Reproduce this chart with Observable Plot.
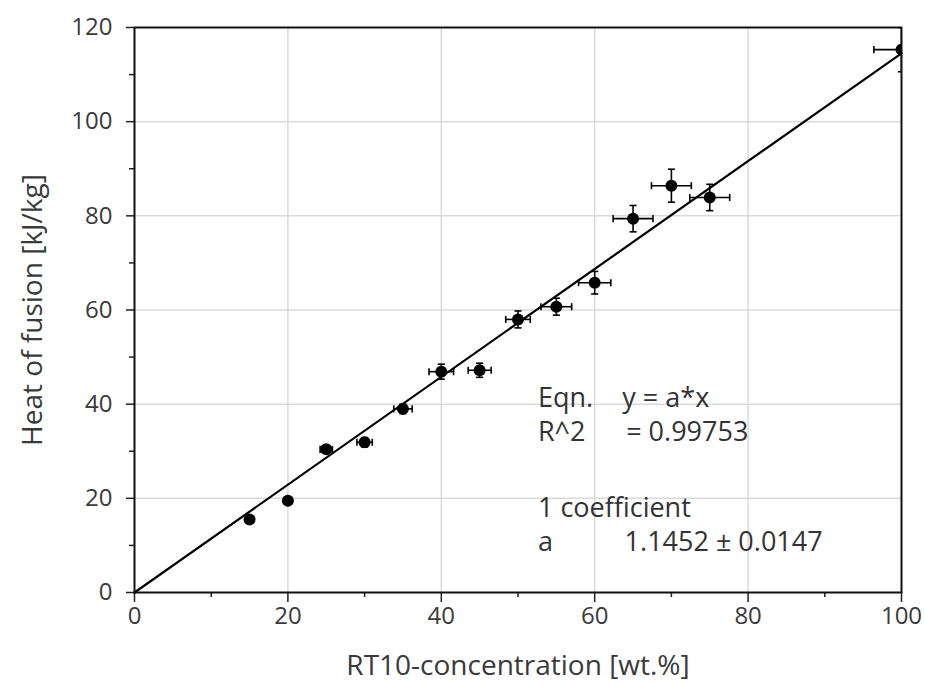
<!DOCTYPE html>
<html>
<head>
<meta charset="utf-8">
<script src="https://cdn.jsdelivr.net/npm/d3@7"></script>
<script src="https://cdn.jsdelivr.net/npm/@observablehq/plot@0.6"></script>
<style>
  html, body { margin: 0; padding: 0; background: #fff; }
  #chart svg { display: block; }
  #chart svg [aria-label="x-axis label"] text,
  #chart svg [aria-label="y-axis label"] text { font-size: 28px; fill: #3a3a3a; }
</style>
</head>
<body>
<div id="chart"></div>
<script>
// Data
const concentration = [15, 20, 25, 30, 35, 40, 45, 50, 55, 60, 65, 70, 75, 100];
const heatOfFusion  = [15.5, 19.5, 30.4, 31.9, 39.0, 46.9, 47.2, 58.0, 60.7, 65.8, 79.4, 86.4, 83.9, 115.3];
const xError        = [0.5, 0.5, 0.8, 1.0, 1.2, 1.6, 1.5, 1.6, 2.0, 2.1, 2.6, 2.6, 2.6, 3.6];
const yError        = [0.4, 0.4, 0.8, 1.0, 1.0, 1.6, 1.5, 1.8, 1.8, 2.4, 2.8, 3.5, 2.8, 4.7];
const slopeA = 1.1452;
const fitRange = [0, 100];
const majorTicks = [0, 20, 40, 60, 80, 100, 120];
const minorTicks = [10, 30, 50, 70, 90, 110];
const annotations = [
  {x: 52.6, y: 41.2, text: "Eqn."},
  {x: 63.6, y: 41.2, text: "y = a*x"},
  {x: 52.6, y: 34.0, text: "R^2"},
  {x: 64.1, y: 34.0, text: "= 0.99753"},
  {x: 52.6, y: 17.8, text: "1 coefficient"},
  {x: 52.6, y: 10.6, text: "a"},
  {x: 63.9, y: 10.6, text: "1.1452 ± 0.0147"}
];

const points = concentration.map((c, i) => ({
  x: c, y: heatOfFusion[i], dx: xError[i], dy: yError[i]
}));
const fit = fitRange.map(x => ({x, y: slopeA * x}));

const vbar = {draw(ctx, size) { const r = Math.sqrt(size) / 2; ctx.moveTo(0, -r); ctx.lineTo(0, r); }};
const hbar = {draw(ctx, size) { const r = Math.sqrt(size) / 2; ctx.moveTo(-r, 0); ctx.lineTo(r, 0); }};

const font = "'Open Sans', 'Noto Sans', sans-serif";

const chart = Plot.plot({
  width: 925,
  height: 686,
  marginLeft: 134,
  marginRight: 24,
  marginTop: 27,
  marginBottom: 94,
  style: {fontFamily: font, fontSize: "24px", color: "#3a3a3a", background: "#fff"},
  x: {domain: [0, 100]},
  y: {domain: [0, 120]},
  marks: [
    Plot.gridX([20, 40, 60, 80], {stroke: "#dadada", strokeOpacity: 1, strokeWidth: 1.5}),
    Plot.gridY([20, 40, 60, 80, 100], {stroke: "#dadada", strokeOpacity: 1, strokeWidth: 1.5}),
    Plot.axisX(majorTicks.filter(d => d <= 100), {tickSize: 10, tickPadding: 4, stroke: "#222", strokeWidth: 1.5, fill: "#3a3a3a", fontSize: 24,
      label: "RT10-concentration [wt.%]", labelAnchor: "center", labelArrow: "none", labelOffset: 82}),
    Plot.axisX(minorTicks.filter(d => d <= 100), {tickSize: 5, text: null, stroke: "#222", strokeWidth: 1.5, label: null}),
    Plot.axisY(majorTicks, {tickSize: 8, tickPadding: 14, stroke: "#222", strokeWidth: 1.5, fill: "#3a3a3a", fontSize: 24,
      label: "Heat of fusion [kJ/kg]", labelAnchor: "center", labelArrow: "none", labelOffset: 112}),
    Plot.axisY(minorTicks, {tickSize: 5, text: null, stroke: "#222", strokeWidth: 1.5, label: null}),
    Plot.frame({stroke: "#111", strokeWidth: 2}),
    Plot.line(fit, {x: "x", y: "y", stroke: "#000", strokeWidth: 2.2}),
    // error bars
    Plot.link(points, {x1: d => d.x - d.dx, x2: d => d.x + d.dx, y1: "y", y2: "y", stroke: "#000", strokeWidth: 1.6, clip: true}),
    Plot.link(points, {x1: "x", x2: "x", y1: d => d.y - d.dy, y2: d => d.y + d.dy, stroke: "#000", strokeWidth: 1.6, clip: true}),
    Plot.dot(points, {x: d => d.x - d.dx, y: "y", symbol: vbar, r: 4, stroke: "#000", strokeWidth: 1.6, fill: "none", clip: true}),
    Plot.dot(points, {x: d => d.x + d.dx, y: "y", symbol: vbar, r: 4, stroke: "#000", strokeWidth: 1.6, fill: "none", clip: true}),
    Plot.dot(points, {x: "x", y: d => d.y - d.dy, symbol: hbar, r: 4, stroke: "#000", strokeWidth: 1.6, fill: "none", clip: true}),
    Plot.dot(points, {x: "x", y: d => d.y + d.dy, symbol: hbar, r: 4, stroke: "#000", strokeWidth: 1.6, fill: "none", clip: true}),
    Plot.dot(points, {x: "x", y: "y", r: 6, fill: "#000", stroke: "none", clip: true}),
    Plot.text(annotations, {x: "x", y: "y", text: "text", textAnchor: "start", fontSize: 27, fill: "#333", fontFamily: font})
  ]
});
document.getElementById("chart").appendChild(chart);
</script>
</body>
</html>
